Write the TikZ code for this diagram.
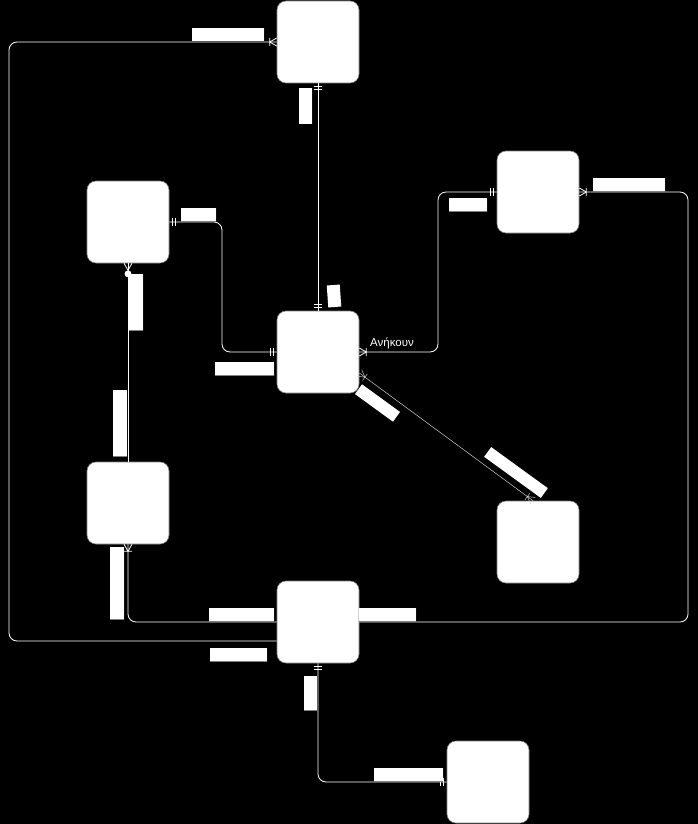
\documentclass[tikz,border=0pt]{standalone}
\usepackage{fontspec}
\newfontfamily\grk{Liberation Sans}
\begin{document}
\begin{tikzpicture}[x=1pt,y=-1pt,
  box/.style={rectangle, rounded corners=9pt, fill=white, draw=gray, line width=0.6pt, minimum width=82pt, minimum height=82pt, inner sep=0pt},
  lbl/.style={rectangle, fill=white, inner sep=0pt, minimum width=#1,
    path picture={\draw[gray, line width=0.8pt] (path picture bounding box.south west) -- (path picture bounding box.south east) -- (path picture bounding box.north east);}},
  lh/.style={lbl=#1, minimum height=13pt},
  lv/.style={lbl=13pt, minimum height=#1},
  conn/.style={draw=white, line width=0.8pt, rounded corners=8pt},
  thinconn/.style={draw=white!80!black, line width=0.5pt},
  mk/.style={draw=white, line width=0.8pt},
  mkthin/.style={draw=white!80!black, line width=0.5pt}]
\newcommand{\mkone}[2]{\begin{scope}[shift={(#1)},rotate=#2]\draw[mk] (3.5,-4)--(3.5,4) (6.5,-4)--(6.5,4);\end{scope}}
\newcommand{\mkmany}[2]{\begin{scope}[shift={(#1)},rotate=#2]\draw[mk] (0,-4)--(7,0)--(0,4) (7,-4)--(7,4);\end{scope}}
\newcommand{\mkmanythin}[2]{\begin{scope}[shift={(#1)},rotate=#2]\draw[mkthin] (0,-4)--(7,0)--(0,4) (7,-4)--(7,4);\end{scope}}
\newcommand{\mkzmany}[2]{\begin{scope}[shift={(#1)},rotate=#2]\draw[mk] (0,-4)--(7,0)--(0,4);\draw[mk, fill=white] (10.5,0) circle (3pt);\end{scope}}

\fill[black] (0,0) rectangle (698,824);
\useasboundingbox (0,0) rectangle (698,824);

% entities
\node[box] (A) at (318,42) {};
\node[box] (B) at (128,222) {};
\node[box] (C) at (318,352) {};
\node[box] (D) at (538,192) {};
\node[box] (E) at (538,542) {};
\node[box] (F) at (128,503) {};
\node[box] (G) at (318,622) {};
\node[box] (H) at (488,782) {};

% helper coordinates
\coordinate (Gw2) at ([yshift=-19pt]G.west);
\coordinate (Cse) at ([yshift=-21pt]C.east);
\coordinate (En) at ([xshift=-5pt]E.north);

% connectors
\draw[conn] (A.west) -| (9,641) -- (Gw2);
\draw[conn] (A.south) -- (C.north);
\draw[conn] (B.east) -| (222,352) -- (C.west);
\draw[conn] (B.south) -- (F.north);
\draw[conn] (C.east) -| (438,192) -- (D.west);
\draw[conn] (G.west) -| (F.south);
\draw[conn] (G.east) -| (688,192) -- (D.east);
\draw[thinconn] (Cse) -- (En);
\draw[conn] (G.south) |- (H.west);

% markers
\mkmany{A.west}{180}
\mkone{A.south}{-90}
\mkone{C.north}{90}
\mkone{B.east}{0}
\mkone{C.west}{180}
\mkzmany{B.south}{-90}
\mkmany{C.east}{0}
\mkone{D.west}{180}
\mkmany{F.south}{-90}
\mkmany{D.east}{0}
\mkmanythin{Cse}{-36.5}
\mkmanythin{En}{143.5}
\mkone{G.south}{-90}
\mkone{H.west}{180}

% labels
\node[lh=72pt] (l1a) at (228,34.5) {};
\node[lh=57pt] (l1b) at (238.5,654.5) {};
\node[lv=36pt] (l2a) at (305.5,106) {};
\node[lbl=13pt, minimum height=22pt, rotate=4] (l2b) at (334,296) {};
\node[lh=35pt] (l3a) at (198.5,214.5) {};
\node[lh=59pt] (l3b) at (244.5,368.5) {};
\node[lbl=14pt, minimum height=56pt] (l4a) at (136,302) {};
\node[lbl=14pt, minimum height=66pt] (l4b) at (120,423) {};
\node[text=white, font=\grk\fontsize{11.5}{13}\selectfont, inner sep=0pt] (t5) at (392,343) {Ανήκουν};
\node[lh=38pt] (l5b) at (468,204.5) {};
\node[lh=65pt] (l6a) at (241.5,614.5) {};
\node[lbl=14pt, minimum height=72pt] (l6b) at (117,583) {};
\node[lh=57pt] (l7a) at (387.5,614.5) {};
\node[lh=72pt] (l7b) at (629,184.5) {};
\node[lh=47pt, minimum height=12pt, rotate=-36] (l8a) at (377.5,403) {};
\node[lh=70pt, minimum height=12pt, rotate=-36] (l8b) at (516,472.5) {};
\node[lv=34pt] (l9a) at (310.5,693) {};
\node[lh=69pt] (l9b) at (408.5,774.5) {};
\end{tikzpicture}
\end{document}
